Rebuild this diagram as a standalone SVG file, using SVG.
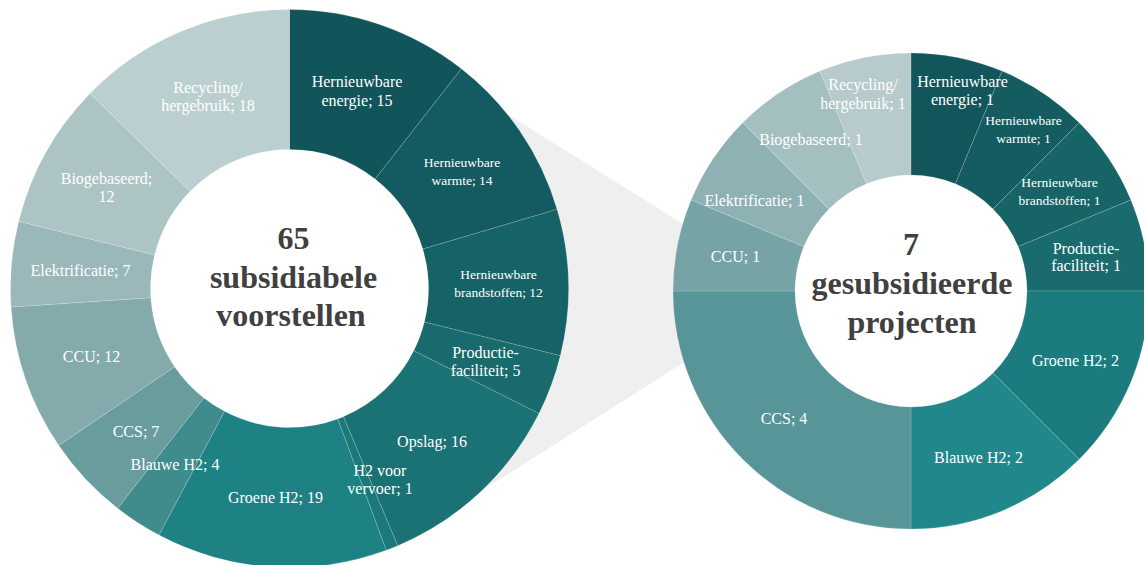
<svg xmlns="http://www.w3.org/2000/svg" width="1144" height="565" viewBox="0 0 1144 565">
<style>
.s{stroke:#ffffff;stroke-opacity:0.2;stroke-width:0.8}
.l{font-family:"Liberation Serif","Times New Roman",serif;font-size:16px;fill:#ffffff;text-anchor:middle}
.sm{font-size:13.5px}
.c{font-family:"Liberation Serif","Times New Roman",serif;font-size:32px;font-weight:bold;fill:#404040;text-anchor:middle}
</style>
<rect width="1144" height="565" fill="#ffffff"/>
<g id="connectors">
<polygon points="470,90.75 720,247 720,339.5 460,504.6" fill="#efefef"/>
</g>
<g id="left-donut">
<g id="l-energie"><path class="s" fill="#11545a" d="M289.5,9.5 A279,279 0 0 1 461.38,68.73 L375.13,179.01 A139,139 0 0 0 289.5,149.5 Z"/></g>
<g id="l-warmte"><path class="s" fill="#135b60" d="M461.38,68.73 A279,279 0 0 1 557.04,209.36 L422.79,249.07 A139,139 0 0 0 375.13,179.01 Z"/></g>
<g id="l-brandstoffen"><path class="s" fill="#156366" d="M557.04,209.36 A279,279 0 0 1 560.28,355.73 L424.41,322 A139,139 0 0 0 422.79,249.07 Z"/></g>
<g id="l-productie"><path class="s" fill="#186a6c" d="M560.28,355.73 A279,279 0 0 1 538.93,413.51 L413.77,350.78 A139,139 0 0 0 424.41,322 Z"/></g>
<g id="l-opslag"><path class="s" fill="#1a7275" d="M538.93,413.51 A279,279 0 0 1 397.69,545.67 L343.4,416.63 A139,139 0 0 0 413.77,350.78 Z"/></g>
<g id="l-vervoer"><path class="s" fill="#1c797a" d="M397.69,545.67 A279,279 0 0 1 386.22,550.21 L337.68,418.88 A139,139 0 0 0 343.4,416.63 Z"/></g>
<g id="l-groene"><path class="s" fill="#1e8184" d="M386.22,550.21 A279,279 0 0 1 159,535.1 L224.49,411.36 A139,139 0 0 0 337.68,418.88 Z"/></g>
<g id="l-blauwe"><path class="s" fill="#408b8c" d="M159,535.1 A279,279 0 0 1 117.62,508.27 L203.87,397.99 A139,139 0 0 0 224.49,411.36 Z"/></g>
<g id="l-ccs"><path class="s" fill="#699c9d" d="M117.62,508.27 A279,279 0 0 1 58.81,445.42 L174.57,366.68 A139,139 0 0 0 203.87,397.99 Z"/></g>
<g id="l-ccu"><path class="s" fill="#84aaab" d="M58.81,445.42 A279,279 0 0 1 11.11,307.01 L150.81,297.72 A139,139 0 0 0 174.57,366.68 Z"/></g>
<g id="l-elektrificatie"><path class="s" fill="#9ab8b9" d="M11.11,307.01 A279,279 0 0 1 18.72,221.27 L154.6,255 A139,139 0 0 0 150.81,297.72 Z"/></g>
<g id="l-biogebaseerd"><path class="s" fill="#adc4c5" d="M18.72,221.27 A279,279 0 0 1 90.05,93.41 L190.13,191.31 A139,139 0 0 0 154.6,255 Z"/></g>
<g id="l-recycling"><path class="s" fill="#bccfd0" d="M90.05,93.41 A279,279 0 0 1 289.5,9.5 L289.5,149.5 A139,139 0 0 0 190.13,191.31 Z"/></g>
</g>
<g id="right-donut">
<g id="r-energie"><path class="s" fill="#12555a" d="M911,53 A238,238 0 0 1 1002.08,71.12 L955.39,183.83 A116,116 0 0 0 911,175 Z"/></g>
<g id="r-warmte"><path class="s" fill="#145c60" d="M1002.08,71.12 A238,238 0 0 1 1079.29,122.71 L993.02,208.98 A116,116 0 0 0 955.39,183.83 Z"/></g>
<g id="r-brandstoffen"><path class="s" fill="#166466" d="M1079.29,122.71 A238,238 0 0 1 1130.88,199.92 L1018.17,246.61 A116,116 0 0 0 993.02,208.98 Z"/></g>
<g id="r-productie"><path class="s" fill="#196b6d" d="M1130.88,199.92 A238,238 0 0 1 1149,291 L1027,291 A116,116 0 0 0 1018.17,246.61 Z"/></g>
<g id="r-groene"><path class="s" fill="#1c7b7f" d="M1149,291 A238,238 0 0 1 1079.29,459.29 L993.02,373.02 A116,116 0 0 0 1027,291 Z"/></g>
<g id="r-blauwe"><path class="s" fill="#20878a" d="M1079.29,459.29 A238,238 0 0 1 911,529 L911,407 A116,116 0 0 0 993.02,373.02 Z"/></g>
<g id="r-ccs"><path class="s" fill="#579599" d="M911,529 A238,238 0 0 1 673,291 L795,291 A116,116 0 0 0 911,407 Z"/></g>
<g id="r-ccu"><path class="s" fill="#76a3a6" d="M673,291 A238,238 0 0 1 691.12,199.92 L803.83,246.61 A116,116 0 0 0 795,291 Z"/></g>
<g id="r-elektrificatie"><path class="s" fill="#8eb1b3" d="M691.12,199.92 A238,238 0 0 1 742.71,122.71 L828.98,208.98 A116,116 0 0 0 803.83,246.61 Z"/></g>
<g id="r-biogebaseerd"><path class="s" fill="#a3bfc0" d="M742.71,122.71 A238,238 0 0 1 819.92,71.12 L866.61,183.83 A116,116 0 0 0 828.98,208.98 Z"/></g>
<g id="r-recycling"><path class="s" fill="#b7cbcd" d="M819.92,71.12 A238,238 0 0 1 911,53 L911,175 A116,116 0 0 0 866.61,183.83 Z"/></g>
</g>
<g id="labels">
<g id="l-energie-label"><text class="l" x="357" y="87">Hernieuwbare</text><text class="l" x="357" y="106">energie; 15</text></g>
<g id="l-warmte-label"><text class="l sm" x="462" y="166.5">Hernieuwbare</text><text class="l sm" x="462" y="184.5">warmte; 14</text></g>
<g id="l-brandstoffen-label"><text class="l sm" x="498.5" y="279">Hernieuwbare</text><text class="l sm" x="498.5" y="297">brandstoffen; 12</text></g>
<g id="l-productie-label"><text class="l" x="485.5" y="358">Productie-</text><text class="l" x="485.5" y="376">faciliteit; 5</text></g>
<g id="l-opslag-label"><text class="l" x="432" y="447">Opslag; 16</text></g>
<g id="l-vervoer-label"><text class="l" x="380" y="475.5">H2 voor</text><text class="l" x="380" y="493.5">vervoer; 1</text></g>
<g id="l-groene-label"><text class="l" x="275.5" y="503">Groene H2; 19</text></g>
<g id="l-blauwe-label"><text class="l" x="175" y="470">Blauwe H2; 4</text></g>
<g id="l-ccs-label"><text class="l" x="136" y="437">CCS; 7</text></g>
<g id="l-ccu-label"><text class="l" x="91.5" y="362">CCU; 12</text></g>
<g id="l-elektrificatie-label"><text class="l" x="80.5" y="276">Elektrificatie; 7</text></g>
<g id="l-biogebaseerd-label"><text class="l" x="106.5" y="183.5">Biogebaseerd;</text><text class="l" x="106.5" y="202">12</text></g>
<g id="l-recycling-label"><text class="l" x="208" y="92.5">Recycling/</text><text class="l" x="208" y="110.5">hergebruik; 18</text></g>
<g id="l-center"><text class="c" x="293.5" y="249">65</text><text class="c" x="293.5" y="287.5">subsidiabele</text><text class="c" x="291" y="326">voorstellen</text></g>
<g id="r-energie-label"><text class="l" x="962.5" y="86.5">Hernieuwbare</text><text class="l" x="962.5" y="105">energie; 1</text></g>
<g id="r-warmte-label"><text class="l sm" x="1023.5" y="125">Hernieuwbare</text><text class="l sm" x="1023.5" y="143">warmte; 1</text></g>
<g id="r-brandstoffen-label"><text class="l sm" x="1059.5" y="187">Hernieuwbare</text><text class="l sm" x="1059.5" y="205">brandstoffen; 1</text></g>
<g id="r-productie-label"><text class="l" x="1086" y="253.5">Productie-</text><text class="l" x="1086" y="271">faciliteit; 1</text></g>
<g id="r-groene-label"><text class="l" x="1075.5" y="365.5">Groene H2; 2</text></g>
<g id="r-blauwe-label"><text class="l" x="978.5" y="463">Blauwe H2; 2</text></g>
<g id="r-ccs-label"><text class="l" x="784" y="424">CCS; 4</text></g>
<g id="r-ccu-label"><text class="l" x="735.5" y="261.5">CCU; 1</text></g>
<g id="r-elektrificatie-label"><text class="l" x="754.5" y="205.5">Elektrificatie; 1</text></g>
<g id="r-biogebaseerd-label"><text class="l" x="811" y="145">Biogebaseerd; 1</text></g>
<g id="r-recycling-label"><text class="l" x="863" y="90">Recycling/</text><text class="l" x="863" y="108.5">hergebruik; 1</text></g>
<g id="r-center"><text class="c" x="911" y="255">7</text><text class="c" x="912" y="294">gesubsidieerde</text><text class="c" x="912" y="333">projecten</text></g>
</g>
</svg>
